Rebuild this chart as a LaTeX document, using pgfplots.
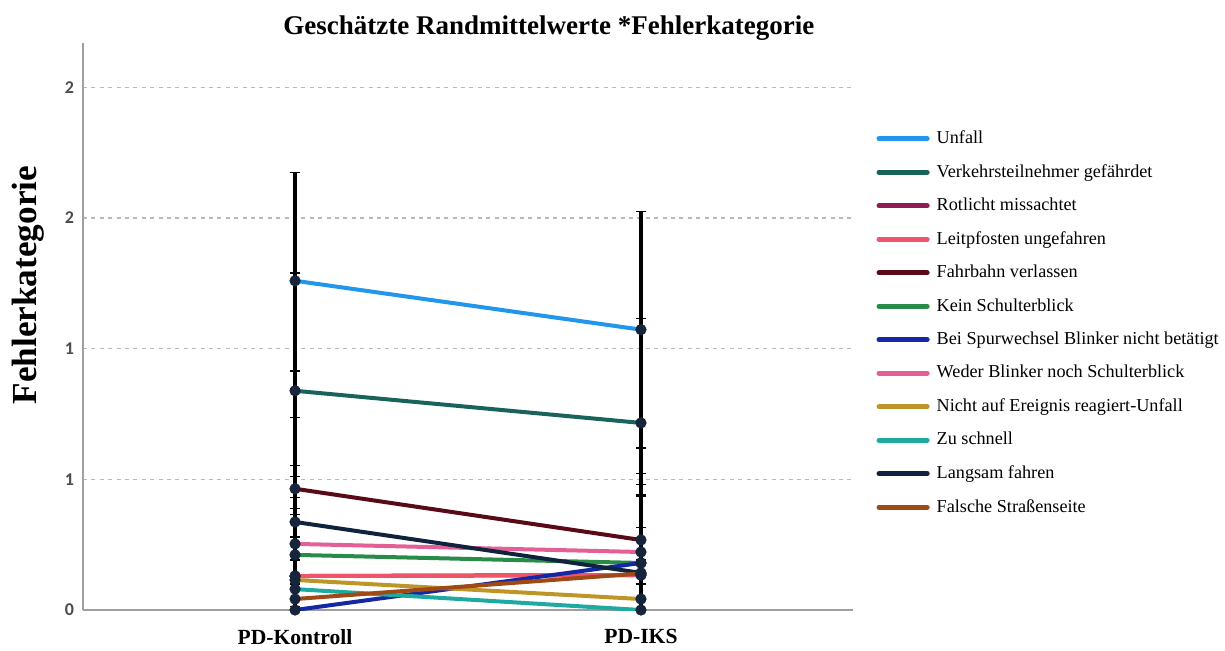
\documentclass[border=0pt]{standalone}
\usepackage{pgfplots}
\usepackage{pgfplotstable}
\pgfplotsset{compat=1.18}
\usepackage{fontspec}
\setmainfont{Liberation Serif}
\newfontfamily\tickfont{Carlito}

% series colours
\definecolor{c1}{RGB}{33,150,235}
\definecolor{c2}{RGB}{24,100,92}
\definecolor{c3}{RGB}{140,30,85}
\definecolor{c4}{RGB}{238,85,105}
\definecolor{c5}{RGB}{90,10,22}
\definecolor{c6}{RGB}{40,140,72}
\definecolor{c7}{RGB}{20,40,165}
\definecolor{c8}{RGB}{228,95,150}
\definecolor{c9}{RGB}{190,150,40}
\definecolor{c10}{RGB}{30,170,160}
\definecolor{c11}{RGB}{15,35,62}
\definecolor{c12}{RGB}{160,72,22}
\definecolor{markc}{RGB}{22,36,60}

% estimated marginal means (s) and error half-widths (e) per category
\pgfplotstableread{
x  s1    e1    s2    e2    s3    e3   s4    e4   s5    e5    s6    e6   s7    e7   s8    e8   s9    e9    s10   e10  s11   e11  s12   e12
0  1.260 0.414 0.839 0.450 0.130 0.30 0.130 0.30 0.464 0.450 0.211 0.30 0.000 0.10 0.253 0.30 0.115 0.25  0.080 0.20 0.337 0.40 0.042 0.15
1  1.073 0.452 0.716 0.400 0.134 0.30 0.134 0.30 0.268 0.350 0.180 0.30 0.180 0.30 0.222 0.30 0.042 0.15  0.000 0.10 0.142 0.30 0.140 0.30
}\means

\begin{document}
\begin{tikzpicture}
\begin{axis}[
  at={(0,0)}, anchor=south west,
  scale only axis,
  width=385pt, height=283.5pt,
  xmin=-0.613, xmax=1.613,
  ymin=0, ymax=2.17,
  axis x line=bottom, axis y line=left,
  axis line style={gray!75, line width=0.8pt, -},
  xtick={0,1}, xticklabels={PD-Kontroll, PD-IKS},
  ytick={0,0.5,1,1.5,2}, yticklabels={0,1,1,2,2},
  major tick length=0pt,
  xticklabel style={font=\fontsize{10.8}{13}\selectfont\bfseries, yshift=-6pt},
  yticklabel style={font=\tickfont\fontsize{9}{10}\selectfont\bfseries, text=black!70, xshift=-1pt},
  ymajorgrids,
  major grid style={gray!55, dash pattern=on 2pt off 2.2pt, line width=0.7pt},
  title={Geschätzte Randmittelwerte *Fehlerkategorie},
  title style={font=\fontsize{13.5}{15}\selectfont\bfseries, at={(axis description cs:0.605,1.0)}, anchor=south, yshift=-8.5pt},
  ylabel={Fehlerkategorie},
  every axis y label/.style={at={(axis description cs:-0.0714,0.573)}, rotate=90, anchor=center,
    font=\fontsize{17.6}{19}\selectfont\bfseries},
  legend style={at={(rel axis cs:1.03,0.853)}, anchor=north west, draw=none, fill=none,
    font=\fontsize{9.1}{10.5}\selectfont, row sep=4.9pt, inner sep=0pt,
    nodes={inner xsep=3.5pt}},
  legend cell align=left,
  legend image code/.code={\draw[#1, line width=2.6pt, line cap=round] (0pt,0pt) -- (24pt,0pt);},
]
% profile lines
\pgfplotsinvokeforeach{1,...,12}{
  \addplot[c#1, line width=2pt, mark=none] table[x=x, y=s#1] {\means};
}
% confidence intervals and point markers
\pgfplotsinvokeforeach{1,...,12}{
  \addplot[forget plot, only marks, mark=*, mark size=2.6pt,
    mark options={fill=markc, draw=markc},
    error bars/.cd, y dir=both, y explicit,
    error bar style={black, line width=2.4pt},
    error mark options={black, line width=0.8pt, mark size=2.5pt, rotate=90}]
    table[x=x, y=s#1, y error=e#1] {\means};
}
\legend{Unfall, Verkehrsteilnehmer gefährdet, Rotlicht missachtet, Leitpfosten ungefahren,
  Fahrbahn verlassen, Kein Schulterblick, Bei Spurwechsel Blinker nicht betätigt,
  Weder Blinker noch Schulterblick, Nicht auf Ereignis reagiert-Unfall, Zu schnell,
  Langsam fahren, Falsche Straßenseite}
\end{axis}
\pgfresetboundingbox
\path[use as bounding box] (-41.5pt,-20pt) rectangle (571pt,305pt);
\end{tikzpicture}
\end{document}
